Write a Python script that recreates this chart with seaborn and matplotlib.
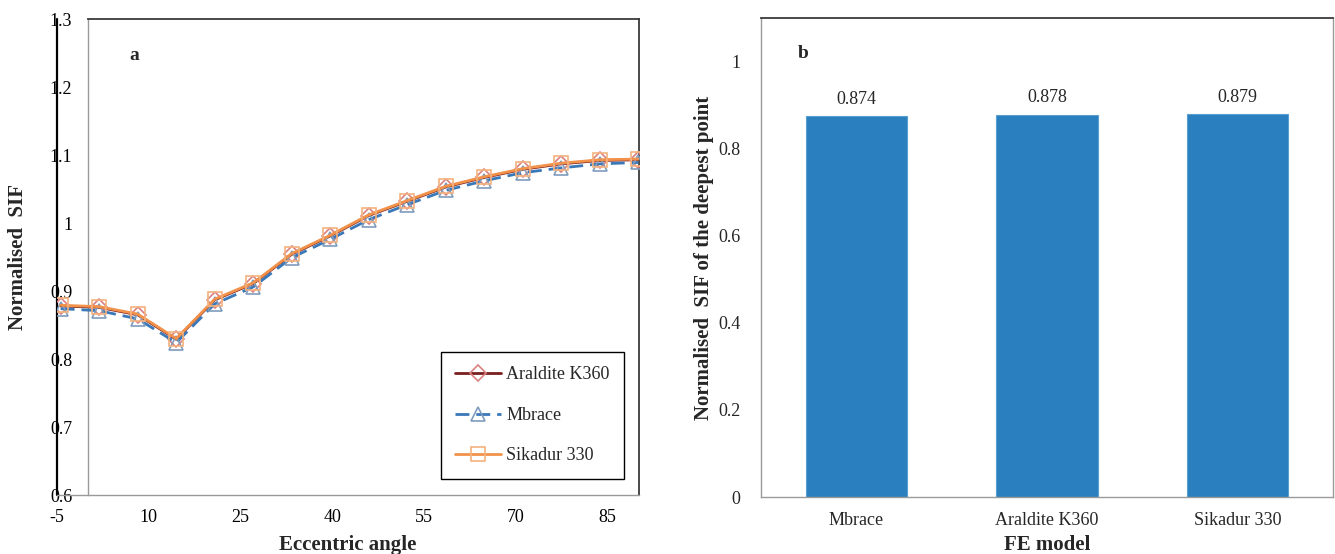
import matplotlib
matplotlib.use("Agg")
import matplotlib.pyplot as plt
import seaborn as sns
import numpy as np

# ---------------- data ----------------
angle_pos = [-4.4, 1.9, 8.2, 14.5, 20.8, 27.1, 33.4, 39.7, 46.0, 52.3, 58.6, 64.9, 71.2, 77.5, 83.8, 90.1]
araldite = [0.878, 0.876, 0.865, 0.829, 0.887, 0.911, 0.954, 0.981, 1.011, 1.032, 1.053, 1.067, 1.079, 1.087, 1.092, 1.093]
mbrace = [0.874, 0.871, 0.859, 0.824, 0.881, 0.906, 0.949, 0.976, 1.005, 1.027, 1.048, 1.062, 1.074, 1.081, 1.087, 1.089]
sikadur = [0.879, 0.877, 0.866, 0.830, 0.888, 0.912, 0.955, 0.982, 1.012, 1.033, 1.054, 1.068, 1.080, 1.088, 1.093, 1.094]
series_names = ["Araldite K360", "Mbrace", "Sikadur 330"]

x_ticks = [-5, 10, 25, 40, 55, 70, 85]
y_ticks_a = [0.6, 0.7, 0.8, 0.9, 1.0, 1.1, 1.2, 1.3]
y_ticklabels_a = ["0.6", "0.7", "0.8", "0.9", "1", "1.1", "1.2", "1.3"]

bar_models = ["Mbrace", "Araldite K360", "Sikadur 330"]
bar_values = [0.874, 0.878, 0.879]
y_ticks_b = [0, 0.2, 0.4, 0.6, 0.8, 1.0]
y_ticklabels_b = ["0", "0.2", "0.4", "0.6", "0.8", "1"]

# ---------------- style ----------------
sns.set_theme(style="white")
plt.rcParams["font.family"] = ["Liberation Serif", "DejaVu Serif"]
plt.rcParams["axes.unicode_minus"] = False

fig = plt.figure(figsize=(13.35, 5.54), dpi=100)
W, H = 1335, 554

def axes_px(l, t, r, b):
    return fig.add_axes([l / W, 1 - b / H, (r - l) / W, (b - t) / H])

GRAY = "#9a9a9a"
DARK = "#3a3a3a"

# ---------------- panel a ----------------
ax = axes_px(57, 19, 639, 495)
ax.spines["left"].set_position(("data", 0))

sns.lineplot(x=angle_pos, y=araldite, ax=ax, color="#7a1f1f", lw=2.0,
             marker="D", markersize=8, markerfacecolor="none",
             markeredgecolor="#d98080", markeredgewidth=1.2,
             label=series_names[0], zorder=3)
sns.lineplot(x=angle_pos, y=mbrace, ax=ax, color="#3a78b8", lw=2.0,
             linestyle=(0, (5, 2.5)),
             marker="^", markersize=10, markerfacecolor="none",
             markeredgecolor="#7f9cbc", markeredgewidth=1.2,
             label=series_names[1], zorder=4)
sns.lineplot(x=angle_pos, y=sikadur, ax=ax, color="#f2924a", lw=2.0,
             marker="s", markersize=10, markerfacecolor="none",
             markeredgecolor="#f4b27e", markeredgewidth=1.2,
             label=series_names[2], zorder=5)

ax.set_xlim(-5, 90.2)
ax.set_ylim(0.6, 1.3)
ax.set_xticks(x_ticks)
ax.set_xticklabels([str(v) for v in x_ticks], fontsize=13)
ax.set_yticks(y_ticks_a)
ax.set_yticklabels(y_ticklabels_a, fontsize=13)

ax.spines["left"].set_color(GRAY)
ax.spines["left"].set_linewidth(1.0)
ax.spines["bottom"].set_color(GRAY)
ax.spines["bottom"].set_linewidth(1.0)
ax.spines["top"].set_color(DARK)
ax.spines["top"].set_linewidth(1.3)
ax.spines["top"].set_bounds(0, 90.2)
ax.spines["right"].set_color(DARK)
ax.spines["right"].set_linewidth(1.3)
ax.axvline(-5, color="black", lw=1.6, clip_on=False, zorder=1)

ax.tick_params(axis="both", which="major", direction="out", length=5,
               width=1.0, color=GRAY, labelcolor="black")
ax.tick_params(axis="y", pad=6)
ax.tick_params(axis="x", pad=5)

ax.set_xlabel("Eccentric angle", fontsize=15, fontweight="bold")
ax.xaxis.set_label_coords(0.5, -0.085)
ax.set_ylabel("Normalised  SIF", fontsize=15, fontweight="bold")
ax.yaxis.set_label_coords(-0.05, 0.5)

fig.text(134 / W, 1 - 56 / H, "a", fontsize=14, fontweight="bold",
         ha="center", va="center")

leg = ax.legend(loc="lower right", bbox_to_anchor=(0.974, 0.034),
                borderaxespad=0, fontsize=13, frameon=True, fancybox=False,
                edgecolor="black", framealpha=1, handlelength=2.5,
                labelspacing=1.3, borderpad=0.8, handletextpad=0.3)
leg.get_frame().set_linewidth(1.0)

# ---------------- panel b ----------------
bx = axes_px(761, 18, 1333, 497)
sns.barplot(x=bar_models, y=bar_values, ax=bx, color="#2a7fbf",
            saturation=1, width=0.53, edgecolor="#5b9fd1", linewidth=0.8,
            errorbar=None)
bx.set_xlim(-0.5, 2.5)
bx.set_ylim(0, 1.1)
bx.set_yticks(y_ticks_b)
bx.set_yticklabels(y_ticklabels_b, fontsize=13)
bx.set_xticks([0, 1, 2])
bx.set_xticklabels(bar_models, fontsize=13)
bx.set_xticks([-0.5, 0.5, 1.5, 2.5], minor=True)
bx.tick_params(axis="x", which="major", length=0, pad=11)
bx.tick_params(axis="x", which="minor", direction="out", length=6,
               width=1.0, color=GRAY)
bx.tick_params(axis="y", which="major", direction="out", length=7,
               width=1.0, color=GRAY, pad=8)

for side in ["left", "bottom"]:
    bx.spines[side].set_color(GRAY)
    bx.spines[side].set_linewidth(1.0)
bx.spines["top"].set_color(DARK)
bx.spines["top"].set_linewidth(1.3)
bx.spines["right"].set_color(GRAY)
bx.spines["right"].set_linewidth(1.0)

for cont in bx.containers:
    bx.bar_label(cont, labels=[f"{v:.3f}" for v in bar_values],
                 padding=6, fontsize=13)

bx.set_xlabel("FE model", fontsize=15, fontweight="bold")
bx.xaxis.set_label_coords(0.5, -0.08)
bx.set_ylabel("Normalised  SIF of the deepest point", fontsize=15,
              fontweight="bold")
bx.yaxis.set_label_coords(-0.082, 0.5)
fig.text(803 / W, 1 - 53 / H, "b", fontsize=14, fontweight="bold",
         ha="center", va="center")

fig.savefig("out.png", dpi=100)
